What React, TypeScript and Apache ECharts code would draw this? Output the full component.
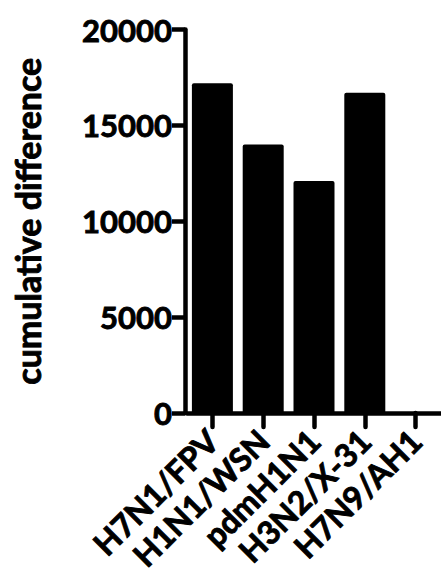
import React, { useEffect, useRef } from "react";
import * as echarts from "echarts";

const categories = ["H7N1/FPV", "H1N1/WSN", "pdmH1N1", "H3N2/X-31", "H7N9/AH1"];
const values = [17200, 14000, 12100, 16700, 0];
const yTicks = { min: 0, max: 20000, interval: 5000 };
const yTitle = "cumulative difference";

export default function App() {
  const ref = useRef<HTMLDivElement>(null);
  useEffect(() => {
    document.body.style.margin = "0";
    const chart = echarts.init(ref.current!, null, { renderer: "svg" });
    const font = "Lato, 'Open Sans', sans-serif";
    const heavy = { textBorderColor: "#000", textBorderWidth: 0.9 };
    chart.setOption({
      animation: false,
      backgroundColor: "#fff",
      grid: { left: 187, right: -6, top: 29.5, bottom: 163, containLabel: false },
      xAxis: {
        type: "category",
        data: categories,
        axisLine: { show: true, lineStyle: { color: "#000", width: 4.5 } },
        axisTick: { show: true, alignWithLabel: true, length: 14, lineStyle: { color: "#000", width: 4.5, cap: "round" } },
        axisLabel: {
          rotate: 45,
          interval: 0,
          margin: 22,
          color: "#000",
          fontFamily: font,
          fontWeight: "bold",
          fontSize: 32,
          ...heavy,
        },
        splitLine: { show: false },
      },
      yAxis: {
        type: "value",
        min: yTicks.min,
        max: yTicks.max,
        interval: yTicks.interval,
        offset: 2,
        name: yTitle,
        nameLocation: "middle",
        nameGap: 141,
        nameTextStyle: { color: "#000", fontFamily: font, fontWeight: "bold", fontSize: 34, ...heavy },
        axisLine: { show: true, lineStyle: { color: "#000", width: 4.5 } },
        axisTick: { show: true, length: 13, lineStyle: { color: "#000", width: 4.5 } },
        axisLabel: {
          margin: 13,
          color: "#000",
          fontFamily: font,
          fontWeight: "bold",
          fontSize: 31,
          formatter: (v: number) => String(v),
          ...heavy,
        },
        splitLine: { show: false },
      },
      series: [
        {
          type: "bar",
          data: values,
          barWidth: 41,
          itemStyle: { color: "#000", borderRadius: [2, 2, 0, 0] },
        },
      ],
    });
    return () => chart.dispose();
  }, []);
  return <div ref={ref} style={{ width: 441, height: 576 }} />;
}
